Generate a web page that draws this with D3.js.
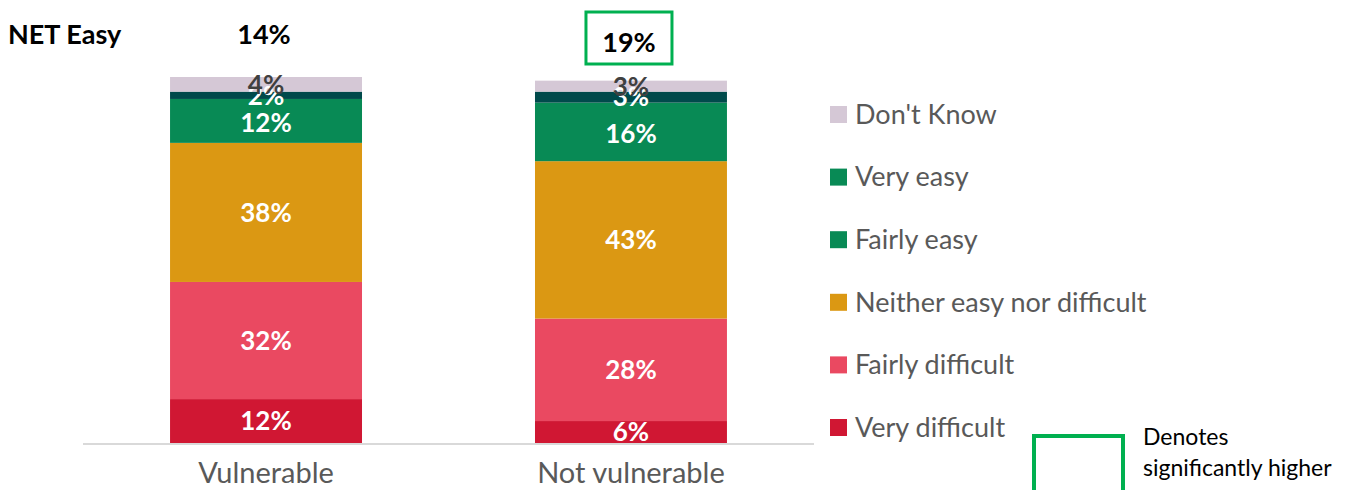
<!DOCTYPE html>
<html>
<head>
<meta charset="utf-8">
<script src="https://cdn.jsdelivr.net/npm/d3@7"></script>
<style>
  body { margin: 0; background: #fff; }
  svg { font-family: Lato, "Open Sans", sans-serif; }
</style>
</head>
<body>
<svg id="chart" width="1365" height="490"></svg>
<script>
// data
const categories = ["Vulnerable", "Not vulnerable"];
const seriesNames = ["Very difficult", "Fairly difficult", "Neither easy nor difficult", "Fairly easy", "Very easy", "Don't Know"];
const veryDifficult = [12, 6];
const fairlyDifficult = [32, 28];
const neither = [38, 43];
const fairlyEasy = [12, 16];
const veryEasy = [2, 3];
const dontKnow = [4, 3];
const netEasy = ["14%", "19%"];
const sigHigher = [false, true];

const seriesValues = [veryDifficult, fairlyDifficult, neither, fairlyEasy, veryEasy, dontKnow];
const colors = ["#d01733", "#ea4961", "#db9813", "#088a55", "#004a4b", "#d5c8d6"];
const legendColors = ["#d01733", "#ea4961", "#db9813", "#088a55", "#088a55", "#d5c8d6"];

const svg = d3.select("#chart");

const x = d3.scaleBand()
    .domain(categories)
    .range([83, 814])
    .paddingInner(0.474)
    .paddingOuter(0.2385);

const y = d3.scaleLinear()
    .domain([0, 100])
    .range([443, 77]);

// stack the series
const rows = categories.map((c, i) => {
    const r = { cat: c };
    seriesNames.forEach((s, j) => { r[s] = seriesValues[j][i]; });
    return r;
});
const stacked = d3.stack().keys(seriesNames)(rows);

const layers = svg.selectAll(".layer")
    .data(stacked)
    .enter()
    .append("g")
    .attr("fill", (d, i) => colors[i]);

layers.selectAll("rect")
    .data((d) => d)
    .enter()
    .append("rect")
    .attr("x", (d) => x(d.data.cat))
    .attr("y", (d) => y(d[1]))
    .attr("width", x.bandwidth())
    .attr("height", (d) => y(d[0]) - y(d[1]));

// axis baseline
svg.append("line")
    .attr("x1", 83).attr("x2", 814)
    .attr("y1", y(0) + 1).attr("y2", y(0) + 1)
    .attr("stroke", "#d9d9d9")
    .attr("stroke-width", 2);

// segment labels
stacked.forEach((layer, i) => {
    svg.append("g")
        .selectAll("text")
        .data(layer)
        .enter()
        .append("text")
        .attr("x", (d) => x(d.data.cat) + x.bandwidth() / 2)
        .attr("y", (d) => (y(d[0]) + y(d[1])) / 2 + (i === 3 ? 2 : 0))
        .attr("dy", "0.36em")
        .attr("text-anchor", "middle")
        .attr("font-size", "26px")
        .attr("font-weight", "bold")
        .attr("fill", i === 5 ? "#404040" : "#fff")
        .text((d) => (d[1] - d[0]) + "%");
});

// category labels
svg.append("g")
    .selectAll("text")
    .data(categories)
    .enter()
    .append("text")
    .attr("x", (d) => x(d) + x.bandwidth() / 2)
    .attr("y", 483)
    .attr("text-anchor", "middle")
    .attr("font-size", "29px")
    .attr("fill", "#595959")
    .text((d) => d);

// NET Easy row
svg.append("text")
    .attr("x", 8).attr("y", 44)
    .attr("font-size", "27px")
    .attr("font-weight", "bold")
    .attr("fill", "#000")
    .text("NET Easy");

categories.forEach((c, i) => {
    const cx = x(c) + x.bandwidth() / 2 - 3;
    const ty = sigHigher[i] ? 52 : 44;
    if (sigHigher[i]) {
        svg.append("rect")
            .attr("x", cx - 42).attr("y", 12)
            .attr("width", 86).attr("height", 52)
            .attr("fill", "none")
            .attr("stroke", "#00b050")
            .attr("stroke-width", 3);
    }
    svg.append("text")
        .attr("x", cx + 1).attr("y", ty)
        .attr("text-anchor", "middle")
        .attr("font-size", "27px")
        .attr("font-weight", "bold")
        .attr("fill", "#000")
        .text(netEasy[i]);
});

// legend (top to bottom: Don't Know ... Very difficult)
const legendOrder = seriesNames.map((s, i) => i).reverse();
const legend = svg.append("g")
    .selectAll("g")
    .data(legendOrder)
    .enter()
    .append("g")
    .attr("transform", (d, k) => `translate(830,${114 + k * 62.6})`);

legend.append("rect")
    .attr("x", 0).attr("y", -8)
    .attr("width", 17).attr("height", 17)
    .attr("fill", (d) => legendColors[d]);

legend.append("text")
    .attr("x", 25).attr("y", 0)
    .attr("dy", "0.36em")
    .attr("font-size", "27px")
    .attr("fill", "#595959")
    .text((d) => seriesNames[d]);

// significance key
svg.append("rect")
    .attr("x", 1034).attr("y", 436)
    .attr("width", 89).attr("height", 62)
    .attr("fill", "none")
    .attr("stroke", "#00b050")
    .attr("stroke-width", 4);

svg.append("text")
    .attr("x", 1143).attr("y", 445)
    .attr("font-size", "23px")
    .attr("fill", "#000")
    .text("Denotes");

svg.append("text")
    .attr("x", 1143).attr("y", 476)
    .attr("font-size", "23px")
    .attr("fill", "#000")
    .text("significantly higher");
</script>
</body>
</html>
